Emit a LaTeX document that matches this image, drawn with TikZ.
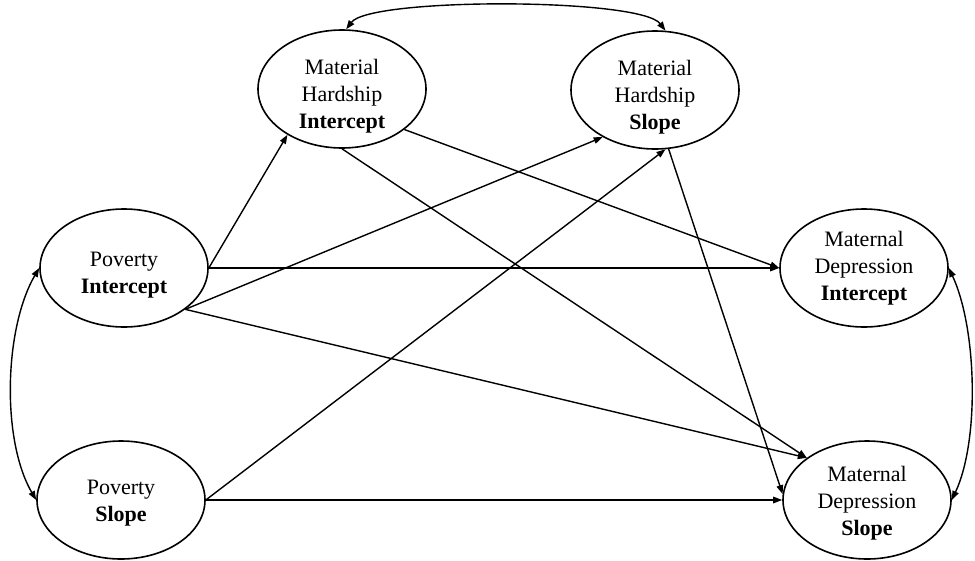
\documentclass[tikz,border=0pt]{standalone}
\usepackage{fontspec}
\setmainfont{Liberation Serif}
\usetikzlibrary{arrows.meta,shapes.geometric}

\begin{document}
\begin{tikzpicture}[x=1pt,y=-1pt,
  latent/.style={draw,ellipse,line width=1.6pt,minimum width=168pt,minimum height=118pt,inner sep=0pt},
  caption/.style={align=center,inner sep=0pt,font=\fontsize{22}{27}\selectfont},
  effect/.style={line width=1.4pt,-{Triangle[length=9pt,width=6.5pt]}},
  cov/.style={line width=1.4pt,{Triangle[length=9pt,width=6.5pt]}-{Triangle[length=9pt,width=6.5pt]}}]

\useasboundingbox (0,0) rectangle (975,560);

\def\factor(#1,#2,#3,#4,#5){
  \node[latent] (#1) at (#2,#3) {};
  \node[caption] (#1-text) at ([yshift=-#4pt]#1.center) {#5};
}

\factor(mhi, 342, 89, 7, Material\\Hardship\\\textbf{Intercept});
\factor(mhs, 655, 90, 7, Material\\Hardship\\\textbf{Slope});
\factor(pi, 124, 268, 7, Poverty\\\textbf{Intercept});
\factor(ps, 121, 500, 3.5, Poverty\\\textbf{Slope});
\factor(mdi, 864, 268, 0, Maternal\\Depression\\\textbf{Intercept});
\factor(mds, 867, 500, 3, Maternal\\Depression\\\textbf{Slope});

% paths
\draw[effect] (pi.east) -- (mhi.220);
\draw[effect] (pi.east) -- (mdi.west);
\draw[effect] (pi.326) -- (mhs.222);
\draw[effect] (pi.326) -- (mds.145);
\draw[effect] (mhi.327) -- (mdi.west);
\draw[effect] (mhi.south) -- (mds.145);
\draw[effect] (mhs.283) -- (mds.176);
\draw[effect] (ps.east) -- (mhs.280);
\draw[effect] (ps.east) -- (mds.west);

% covariances
\draw[cov] (mhi.86) .. controls +(24,-32) and +(-25,-33) .. (mhs.80);
\draw[cov] (pi.west) .. controls +(-35,60) and +(-35,-60) .. (ps.west);
\draw[cov] (mdi.east) .. controls +(28,60) and +(28,-60) .. (mds.east);

\end{tikzpicture}
\end{document}
